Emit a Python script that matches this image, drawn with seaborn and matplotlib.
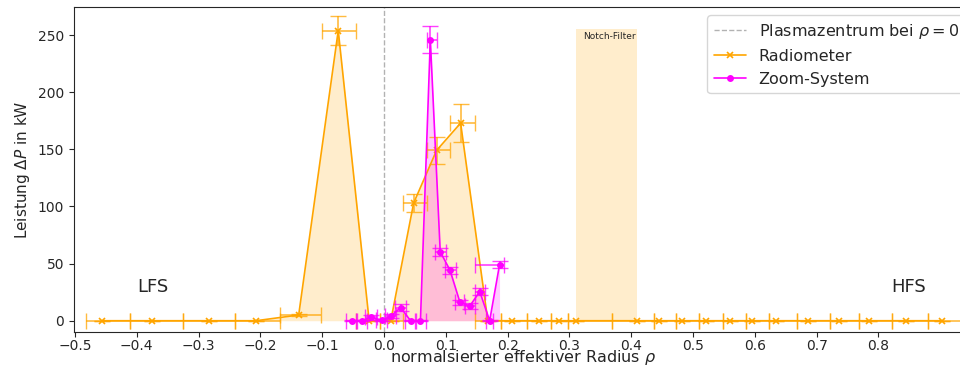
import numpy as np
import pandas as pd
import matplotlib
matplotlib.use("Agg")
import matplotlib.pyplot as plt
import seaborn as sns

# ---------------- data ----------------
rad_x = [-0.456, -0.376, -0.283, -0.207, -0.138, -0.074, -0.024, 0.011, 0.048, 0.085,
         0.124, 0.168, 0.207, 0.251, 0.284, 0.311, 0.410, 0.445, 0.482, 0.521,
         0.560, 0.595, 0.635, 0.686, 0.737, 0.785, 0.844, 0.903]
rad_y = [0, 0, 0, 0, 5, 254, 0, 0, 103, 149,
         173, 0, 0, 0, 0, 0, 0, 0, 0, 0,
         0, 0, 0, 0, 0, 0, 0, 0]
rad_yerr = [0, 0, 0, 0, 1.2, 12.5, 0, 0, 7.7, 11.5,
            16.5, 0, 0, 0, 0, 0, 0, 0, 0, 0,
            0, 0, 0, 0, 0, 0, 0, 0]
rad_xlo = [-0.482, -0.411, -0.326, -0.241, -0.169, -0.101, -0.045, -0.006, 0.031, 0.069,
           0.107, 0.148, 0.190, 0.231, 0.270, 0.297, 0.369, 0.437, 0.472, 0.510,
           0.549, 0.586, 0.623, 0.669, 0.721, 0.769, 0.822, 0.881]
rad_xhi = [-0.411, -0.326, -0.241, -0.169, -0.102, -0.045, -0.006, 0.031, 0.069, 0.107,
           0.148, 0.190, 0.231, 0.270, 0.297, 0.369, 0.437, 0.472, 0.510, 0.549,
           0.586, 0.623, 0.669, 0.721, 0.769, 0.822, 0.881, 0.950]

zoom_x = [-0.052, -0.036, -0.021, -0.004, 0.011, 0.027, 0.043, 0.059, 0.075, 0.091,
          0.107, 0.123, 0.139, 0.155, 0.171, 0.187]
zoom_y = [0, 0, 3, 0.5, 4, 11.5, 0, 0, 246, 60.5,
          44, 16, 13, 25.5, 0, 49]
zoom_yerr = [0.5, 0.5, 2, 1, 2, 3, 0.5, 0.5, 12, 3.5,
             3, 2.5, 2.5, 3, 0.5, 3]
zoom_xlo = [-0.061, -0.045, -0.030, -0.013, 0.002, 0.018, 0.034, 0.050, 0.069, 0.083,
            0.099, 0.115, 0.131, 0.147, 0.165, 0.147]
zoom_xhi = [-0.043, -0.027, -0.012, 0.005, 0.020, 0.036, 0.052, 0.068, 0.086, 0.100,
            0.116, 0.130, 0.148, 0.164, 0.177, 0.194]

notch_range = [0.311, 0.410]
notch_height = 255

xticks = [-0.5, -0.4, -0.3, -0.2, -0.1, 0.0, 0.1, 0.2, 0.3, 0.4, 0.5, 0.6, 0.7, 0.8]
yticks = [0, 50, 100, 150, 200, 250]

# ---------------- plot ----------------
sns.set_style("ticks")
plt.rcParams['font.family'] = ['DejaVu Sans']

fig = plt.figure(figsize=(9.6, 3.67), dpi=100)
ax = fig.add_axes([0.0768, 0.0962, 1.0135 - 0.0768, 0.980 - 0.0962])

rad = pd.DataFrame({"x": rad_x, "y": rad_y})
zoom = pd.DataFrame({"x": zoom_x, "y": zoom_y})

ax.axvline(0, color="grey", ls="--", lw=1, alpha=0.6, label=r"Plasmazentrum bei $\rho=0$")

# notch filter
ax.fill_between(notch_range, 0, notch_height, color="orange", alpha=0.2, lw=0)
ax.text(np.mean(notch_range) + 0.004, 249, "Notch-Filter", fontsize=6.5, ha="center", va="center")

# radiometer
rx = np.array(rad_x)
ax.errorbar(rad_x, rad_y, yerr=rad_yerr,
            xerr=[rx - np.array(rad_xlo), np.array(rad_xhi) - rx],
            fmt="none", ecolor="orange", elinewidth=1.2, capsize=6, alpha=0.75)
sns.lineplot(data=rad, x="x", y="y", ax=ax, color="orange", marker="x", markersize=4,
             markeredgewidth=1.2, markeredgecolor="orange", linestyle="-", lw=1.2,
             sort=False, estimator=None, label="Radiometer")
ax.fill_between(rad_x, rad_y, color="orange", alpha=0.2, lw=0)

# zoom system
zx = np.array(zoom_x)
ax.errorbar(zoom_x, zoom_y, yerr=zoom_yerr,
            xerr=[zx - np.array(zoom_xlo), np.array(zoom_xhi) - zx],
            fmt="none", ecolor="magenta", elinewidth=1.2, capsize=6, alpha=0.75)
sns.lineplot(data=zoom, x="x", y="y", ax=ax, color="magenta", marker="o", markersize=5,
             markeredgewidth=0, markeredgecolor="magenta", linestyle="-", lw=1.2,
             sort=False, estimator=None, label="Zoom-System")
ax.fill_between(zoom_x, zoom_y, color="magenta", alpha=0.2, lw=0)

ax.text(-0.4, 25, "LFS", fontsize=13)
ax.text(0.82, 25, "HFS", fontsize=13)

ax.set_xlim(-0.502, 0.953)
ax.set_ylim(-9.6, 274.3)
ax.set_xticks(xticks)
ax.set_yticks(yticks)
ax.tick_params(labelsize=10)
ax.tick_params(axis="x", pad=2)
ax.set_xlabel(r"normalsierter effektiver Radius $\rho$", fontsize=11.5)
ax.xaxis.set_label_coords(0.5, -0.05)
ax.set_ylabel(r"Leistung $\Delta P$ in kW", fontsize=11)
ax.legend(loc="upper right", fontsize=11.5, labelspacing=0.5)

fig.savefig("out.png", dpi=100)
